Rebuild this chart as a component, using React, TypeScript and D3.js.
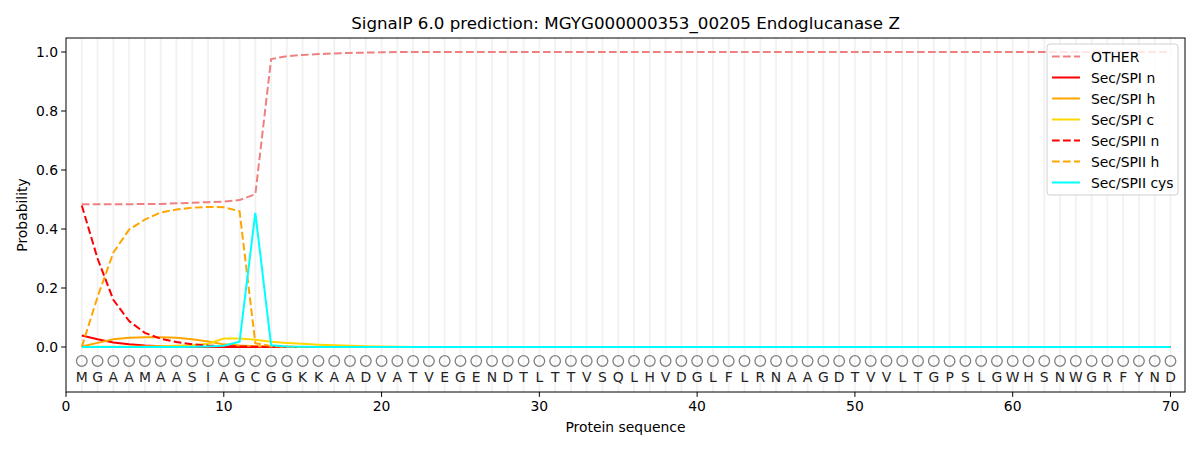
import React from "react";
import * as d3 from "d3";

const sequence = "MGAAMAASIAGCGGKKAADVATVEGENDTLTTVSQLHVDGLFLRNAAGDTVVLTGPSLGWHSNWGRFYND".split("");

const otherHead = [0.484, 0.484, 0.484, 0.484, 0.485, 0.485, 0.487, 0.489, 0.491, 0.493, 0.498, 0.518, 0.976, 0.986, 0.99, 0.993, 0.995, 0.997, 0.998, 0.999];
const spiNHead = [0.039, 0.026, 0.015, 0.009, 0.005, 0.003, 0.002, 0.001];
const spiHHead = [0.002, 0.014, 0.026, 0.031, 0.033, 0.033, 0.031, 0.026, 0.019, 0.009, 0.005, 0.003, 0.002, 0.001];
const spiCHead = [0.0, 0.001, 0.001, 0.001, 0.002, 0.003, 0.004, 0.006, 0.011, 0.029, 0.029, 0.025, 0.018, 0.014, 0.011, 0.008, 0.006, 0.004, 0.003, 0.002, 0.001];
const spiiNHead = [0.48, 0.3, 0.16, 0.088, 0.048, 0.028, 0.017, 0.009, 0.005, 0.003, 0.002, 0.001];
const spiiHHead = [0.0, 0.17, 0.32, 0.398, 0.432, 0.456, 0.466, 0.472, 0.475, 0.474, 0.46, 0.013, 0.003, 0.001];
const spiiCysHead = [0.0, 0.0, 0.0, 0.0, 0.0, 0.0, 0.0, 0.001, 0.002, 0.004, 0.018, 0.455, 0.006, 0.002, 0.001];

const N = sequence.length;
const fill = (head: number[], tail: number) => sequence.map((_, i) => (i < head.length ? head[i] : tail));

const DASH = "7.7,3.3";
const series = [
  { name: "OTHER", color: "#f08080", dash: DASH, values: fill(otherHead, 1.0) },
  { name: "Sec/SPI n", color: "#ff0000", dash: "", values: fill(spiNHead, 0) },
  { name: "Sec/SPI h", color: "#ffa500", dash: "", values: fill(spiHHead, 0) },
  { name: "Sec/SPI c", color: "#ffd700", dash: "", values: fill(spiCHead, 0) },
  { name: "Sec/SPII n", color: "#ff0000", dash: DASH, values: fill(spiiNHead, 0) },
  { name: "Sec/SPII h", color: "#ffa500", dash: DASH, values: fill(spiiHHead, 0) },
  { name: "Sec/SPII cys", color: "#00ffff", dash: "", values: fill(spiiCysHead, 0) },
];

const xTicks = [0, 10, 20, 30, 40, 50, 60, 70];
const yTicks = [0, 0.2, 0.4, 0.6, 0.8, 1.0];

const W = 1200, H = 450;
const left = 66, right = 1185, top = 38, bottom = 392;
const FONT = "DejaVu Sans, sans-serif";

export default function App() {
  const x = d3.scaleLinear().domain([0, 70.92]).range([left, right]);
  const y = d3.scaleLinear().domain([-0.1525, 1.0475]).range([bottom, top]);
  const line = d3
    .line<number>()
    .x((_, i) => x(i + 1))
    .y((d) => y(d));
  const positions = d3.range(1, N + 1);
  const legendX = 1047, legendY = 44;
  return (
    <svg width={W} height={H} style={{ position: "absolute", left: 0, top: 0, background: "#fff" }} fontFamily={FONT}>
      <rect x={0} y={0} width={W} height={H} fill="#fff" />
      {positions.map((p) => (
        <line key={"g" + p} x1={x(p)} x2={x(p)} y1={top} y2={bottom} stroke="#000" strokeOpacity={0.05} strokeWidth={2} />
      ))}
      {series.map((s) => (
        <path key={s.name} d={line(s.values) || ""} fill="none" stroke={s.color} strokeWidth={2} strokeDasharray={s.dash || undefined} />
      ))}
      {positions.map((p, i) => (
        <g key={"s" + p}>
          <circle cx={x(p)} cy={361} r={5.3} fill="none" stroke="#808080" strokeWidth={1.3} />
          <text x={x(p)} y={382} textAnchor="middle" fontSize={13.9} fill="#222">
            {sequence[i]}
          </text>
        </g>
      ))}
      <rect x={left} y={top} width={right - left} height={bottom - top} fill="none" stroke="#000" strokeWidth={1} />
      {yTicks.map((t) => (
        <g key={"y" + t}>
          <line x1={left - 4.9} x2={left} y1={y(t)} y2={y(t)} stroke="#000" />
          <text x={left - 8} y={y(t) + 4.8} textAnchor="end" fontSize={13.9}>
            {t.toFixed(1)}
          </text>
        </g>
      ))}
      {xTicks.map((t) => (
        <g key={"x" + t}>
          <line x1={x(t)} x2={x(t)} y1={bottom} y2={bottom + 4.9} stroke="#000" />
          <text x={x(t)} y={bottom + 19} textAnchor="middle" fontSize={13.9}>
            {t}
          </text>
        </g>
      ))}
      <text x={(left + right) / 2} y={432} textAnchor="middle" fontSize={13.9}>
        Protein sequence
      </text>
      <text transform={`translate(27,${(top + bottom) / 2}) rotate(-90)`} textAnchor="middle" fontSize={13.9}>
        Probability
      </text>
      <text x={(left + right) / 2} y={29} textAnchor="middle" fontSize={16.7}>
        SignalP 6.0 prediction: MGYG000000353_00205 Endoglucanase Z
      </text>
      <g>
        <rect x={legendX} y={legendY} width={131} height={151} rx={3} fill="#fff" fillOpacity={0.8} stroke="#d0d0d0" />
        {series.map((s, i) => (
          <g key={"l" + s.name}>
            <line x1={legendX + 5} x2={legendX + 33} y1={legendY + 12.5 + i * 21} y2={legendY + 12.5 + i * 21} stroke={s.color} strokeWidth={2} strokeDasharray={s.dash || undefined} />
            <text x={legendX + 44} y={legendY + 17.5 + i * 21} fontSize={13.9}>
              {s.name}
            </text>
          </g>
        ))}
      </g>
    </svg>
  );
}
